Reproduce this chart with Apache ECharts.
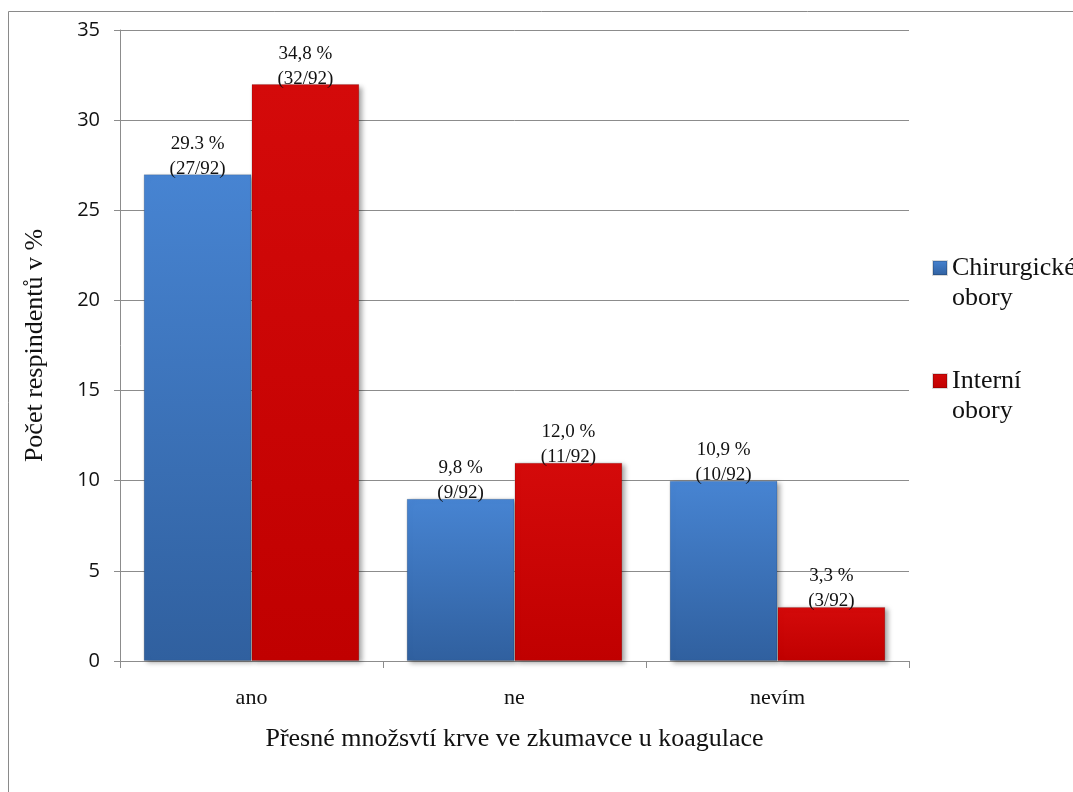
<!DOCTYPE html>
<html>
<head>
<meta charset="utf-8">
<script src="https://cdn.jsdelivr.net/npm/echarts@6/dist/echarts.min.js"></script>
<style>
  html, body { margin: 0; padding: 0; background: #fff; }
  #chart { width: 1073px; height: 792px; }
</style>
</head>
<body>
<div id="chart"></div>
<script>
// data
var categories = ['ano', 'ne', 'nevím']
var seriesNames = ['Chirurgické\nobory', 'Interní\nobory']
var chirurgicke = [27, 9, 10]
var interni = [32, 11, 3]
var chirurgickeLabels = ['29.3 %\n(27/92)', '9,8 %\n(9/92)', '10,9 %\n(10/92)']
var interniLabels = ['34,8 %\n(32/92)', '12,0 %\n(11/92)', '3,3 %\n(3/92)']
var yTicks = [0, 5, 10, 15, 20, 25, 30, 35]

var serif = '"Liberation Serif", "DejaVu Serif", serif'
var sans = '"Open Sans", "Noto Sans", sans-serif'

var chart = echarts.init(document.getElementById('chart'))

function barStyle(top, bottom) {
  return {
    color: new echarts.graphic.LinearGradient(0, 0, 0, 1, [
      { offset: 0, color: top },
      { offset: 1, color: bottom }
    ]),
    borderColor: 'rgba(0,0,0,0.15)',
    borderWidth: 1,
    shadowColor: 'rgba(0,0,0,0.35)',
    shadowBlur: 5,
    shadowOffsetX: 3,
    shadowOffsetY: 2
  }
}

function barLabel(texts) {
  return {
    show: true,
    position: 'top',
    distance: -7,
    color: '#111',
    fontFamily: serif,
    fontSize: 19,
    lineHeight: 25,
    align: 'center',
    formatter: function (p) { return texts[p.dataIndex] }
  }
}

chart.setOption({
  backgroundColor: '#fff',
  animation: false,
  graphic: [{
    type: 'rect',
    shape: { x: 8.5, y: 11.5, width: 1100, height: 820 },
    style: { fill: 'none', stroke: '#8a8a8a', lineWidth: 1 },
    silent: true
  }],
  grid: {
    left: 120,
    right: 164,
    top: 30,
    bottom: 131
  },
  legend: {
    orient: 'vertical',
    left: 927,
    top: 218,
    itemWidth: 14,
    itemHeight: 14,
    itemGap: 23,
    itemTextGap: 4,
    icon: 'rect',
    // leading blank line keeps the icon level with the first text line
    formatter: function (name) { return '\n' + name },
    textStyle: {
      fontFamily: serif,
      fontSize: 26,
      lineHeight: 30,
      color: '#111'
    }
  },
  xAxis: {
    type: 'category',
    data: categories,
    name: 'Přesné množsvtí krve ve zkumavce u koagulace',
    nameLocation: 'middle',
    nameGap: 65,
    nameTextStyle: { fontFamily: serif, fontSize: 26, color: '#111' },
    axisLine: { lineStyle: { color: '#8c8c8c', width: 1 } },
    axisTick: { show: true, length: 7, lineStyle: { color: '#8c8c8c' } },
    axisLabel: { fontFamily: serif, fontSize: 22, color: '#111', margin: 26 }
  },
  yAxis: {
    type: 'value',
    min: yTicks[0],
    max: yTicks[yTicks.length - 1],
    interval: 5,
    name: 'Počet respindentů v %',
    nameLocation: 'middle',
    nameGap: 72,
    nameTextStyle: { fontFamily: serif, fontSize: 26, color: '#111' },
    axisLine: { show: true, lineStyle: { color: '#8c8c8c', width: 1 } },
    axisTick: { show: true, length: 6, lineStyle: { color: '#8c8c8c' } },
    axisLabel: { fontFamily: sans, fontSize: 20, color: '#111', margin: 20 },
    splitLine: { lineStyle: { color: '#8c8c8c', width: 1 } }
  },
  series: [{
    name: seriesNames[0],
    type: 'bar',
    data: chirurgicke,
    barGap: '0%',
    barCategoryGap: '18%',
    itemStyle: barStyle('#4784d2', '#30609f'),
    label: barLabel(chirurgickeLabels)
  }, {
    name: seriesNames[1],
    type: 'bar',
    data: interni,
    itemStyle: barStyle('#d40a0a', '#c00000'),
    label: barLabel(interniLabels)
  }]
})
</script>
</body>
</html>
